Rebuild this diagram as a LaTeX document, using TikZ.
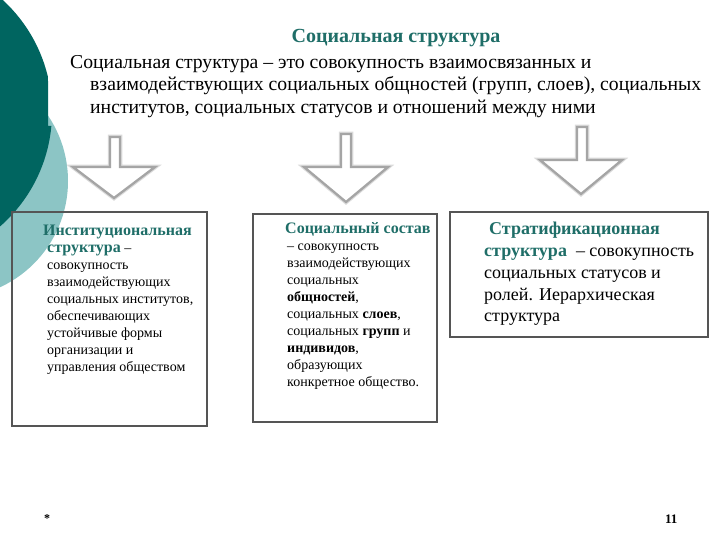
\documentclass[tikz,border=0pt]{standalone}
\usepackage{fontspec}
\setmainfont{Liberation Serif}
\definecolor{darkteal}{RGB}{0,101,96}
\definecolor{lightteal}{RGB}{140,197,197}
\definecolor{titleteal}{RGB}{31,110,104}
\definecolor{arrowgray}{RGB}{165,165,165}
\definecolor{boxgray}{RGB}{85,85,85}
\newcommand{\tl}[1]{{\bfseries\color{titleteal}#1}}
\begin{document}
\begin{tikzpicture}[x=1pt,y=-1pt,
  txt/.style={inner sep=0pt,anchor=north west,align=left},
  boxframe/.style={draw=boxgray,line width=1.6pt},
  arrowshadow/.style={draw=arrowgray!40,line width=4.5pt,line join=miter},
  arrowline/.style={draw=arrowgray,fill=white,line width=2.3pt,line join=miter}]
\useasboundingbox[fill=white] (0,0) rectangle (720,540);
% background circles
\fill[lightteal] (-49,181) circle (117);
\begin{scope}
  \clip (-5,-5) -- (48,-5) -- (48,126) -- (62,126) -- (62,320) -- (-5,320) -- cycle;
  \fill[darkteal] (-100,112) circle (152);
\end{scope}
% title
\node[inner sep=0pt,anchor=base,font=\fontsize{20}{24}\selectfont\bfseries,text=titleteal] (title) at (396,43)
  {Социальная структура};
% definition
\node[txt,font=\fontsize{19.7}{22.5}\selectfont] (def) at (70,55) {Социальная структура – это совокупность взаимосвязанных и\\
\hspace*{20pt}взаимодействующих социальных общностей (групп, слоев), социальных\\
\hspace*{20pt}институтов, социальных статусов и отношений между ними};
% arrows
\foreach \sl/\sr/\tp/\sh/\hl/\hr/\tx/\ty in {110/120/137/167/73/155/114/198, 341/351/134/167/304/388/346/202, 577/587/127/160/540/622/581/194}{
  \draw[arrowshadow] (\sl,\tp) -- (\sr,\tp) -- (\sr,\sh) -- (\hr,\sh) -- (\tx,\ty) -- (\hl,\sh) -- (\sl,\sh) -- cycle;
  \draw[arrowline] (\sl,\tp) -- (\sr,\tp) -- (\sr,\sh) -- (\hr,\sh) -- (\tx,\ty) -- (\hl,\sh) -- (\sl,\sh) -- cycle;
}
% boxes
\draw[boxframe] (12,212) rectangle (207,426);
\draw[boxframe] (253,214) rectangle (437,422);
\draw[boxframe] (450,212) rectangle (708,337);
% box 1 text
\node[txt,font=\fontsize{14}{17}\selectfont] (b1) at (43,225) {{\fontsize{16}{17}\selectfont\tl{Институциональная}}\\
\hspace*{4pt}{\fontsize{16}{17}\selectfont\tl{структура}} –\\
\hspace*{4pt}совокупность\\
\hspace*{4pt}взаимодействующих\\
\hspace*{4pt}социальных институтов,\\
\hspace*{4pt}обеспечивающих\\
\hspace*{4pt}устойчивые формы\\
\hspace*{4pt}организации и\\
\hspace*{4pt}управления обществом};
% box 2 text
\node[txt,font=\fontsize{14}{17}\selectfont] (b2) at (285,222) {{\fontsize{16}{17}\selectfont\tl{Социальный состав}}\\
\hspace*{2pt}– совокупность\\
\hspace*{2pt}взаимодействующих\\
\hspace*{2pt}социальных\\
\hspace*{2pt}\textbf{общностей},\\
\hspace*{2pt}социальных \textbf{слоев},\\
\hspace*{2pt}социальных \textbf{групп} и\\
\hspace*{2pt}\textbf{индивидов},\\
\hspace*{2pt}образующих\\
\hspace*{2pt}конкретное общество.};
% box 3 text
\node[txt,font=\fontsize{18}{21.8}\selectfont] (b3) at (484,222) {\hspace*{5pt}\tl{Стратификационная}\\
\tl{структура}\ \ – совокупность\\
социальных статусов и\\
ролей. Иерархическая\\
структура};
% footer
\node[inner sep=0pt,anchor=base west,font=\fontsize{12}{14}\selectfont\bfseries] (star) at (44,522) {*};
\node[inner sep=0pt,anchor=base west,font=\fontsize{13}{15}\selectfont\bfseries] (num) at (665,523) {11};
\end{tikzpicture}
\end{document}
